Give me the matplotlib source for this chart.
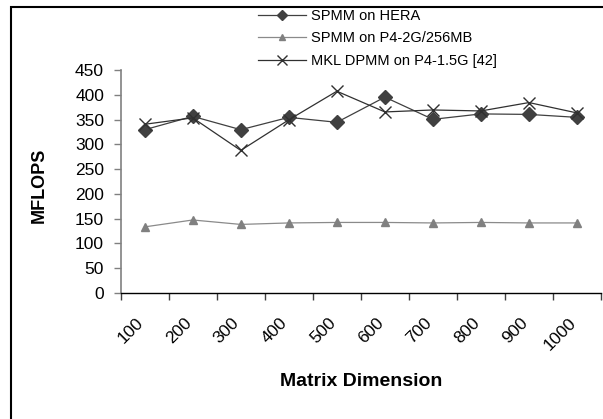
import matplotlib
matplotlib.use("Agg")
import matplotlib.pyplot as plt
from matplotlib.patches import Rectangle
from matplotlib.transforms import ScaledTranslation
import numpy as np

plt.rcParams['font.family'] = ['Liberation Sans', 'DejaVu Sans']

categories = ['100', '200', '300', '400', '500', '600', '700', '800', '900', '1000']
spmm_hera = [330, 357, 330, 355, 345, 396, 351, 362, 361, 355]
spmm_p4 = [133, 147, 138, 141, 142, 142, 141, 142, 141, 141]
mkl_dpmm = [341, 354, 288, 350, 408, 366, 370, 368, 385, 364]
yticks = [0, 50, 100, 150, 200, 250, 300, 350, 400, 450]

fig = plt.figure(figsize=(6.03, 4.19), dpi=100)
W, H = 603, 419
ax = fig.add_axes([120.7 / W, 1 - 292.5 / H, (601 - 120.7) / W, (292.5 - 70.5) / H])

x = np.arange(len(categories))
ax.plot(x, spmm_hera, color='#404040', lw=0.9, marker='D', markersize=7,
        markerfacecolor='#404040', markeredgecolor='#404040', label='SPMM on HERA')
ax.plot(x, spmm_p4, color='#8a8a8a', lw=0.9, marker='^', markersize=6,
        markerfacecolor='#808080', markeredgecolor='#808080', label='SPMM on P4-2G/256MB')
ax.plot(x, mkl_dpmm, color='#303030', lw=0.9, marker='x', markersize=9,
        markeredgewidth=1.0, label='MKL DPMM on P4-1.5G [42]')

ax.set_xlim(-0.5, len(categories) - 0.5)
ax.set_ylim(0, 450)
ax.set_yticks(yticks)
ax.set_yticklabels([str(v) for v in yticks])

ax.set_xticks(x)
ax.set_xticks(np.arange(len(categories) + 1) - 0.5, minor=True)
ax.set_xticklabels(categories, rotation=45, ha='right', va='top',
                   rotation_mode='anchor', fontsize=12.5)
ax.tick_params(axis='x', which='major', length=0, pad=16)
ax.tick_params(axis='x', which='minor', length=5, width=1, color='#404040', direction='out')
ax.tick_params(axis='y', length=5, width=1, color='#808080', direction='out',
               labelsize=12.5, pad=7)
off = ScaledTranslation(-9 / 100, 0, fig.dpi_scale_trans)
for lab in ax.get_xticklabels():
    lab.set_transform(lab.get_transform() + off)

for s in ['top', 'right']:
    ax.spines[s].set_visible(False)
ax.spines['left'].set_color('#808080')
ax.spines['left'].set_linewidth(1.2)
ax.spines['bottom'].set_color('black')
ax.spines['bottom'].set_linewidth(1.0)
ax.patch.set_visible(False)

fig.text(39 / W, 1 - 185 / H, 'MFLOPS', rotation=90, fontsize=13, fontweight='bold',
         ha='center', va='center')
fig.text(361 / W, 1 - 381 / H, 'Matrix Dimension', fontsize=14, fontweight='bold',
         ha='center', va='center')

leg = ax.legend(loc='upper left', bbox_to_anchor=(258 / W, 1 - 9 / H),
                bbox_transform=fig.transFigure, frameon=False, fontsize=10.5,
                handlelength=3.3, handletextpad=0.35, labelspacing=0.58,
                borderpad=0, borderaxespad=0, markerscale=0.75)

fig.patches.append(Rectangle((11 / W, -0.2), 2, (419 - 7) / H + 0.2, transform=fig.transFigure,
                             fill=False, edgecolor='black', linewidth=1.5))

fig.savefig('out.png', dpi=100)
